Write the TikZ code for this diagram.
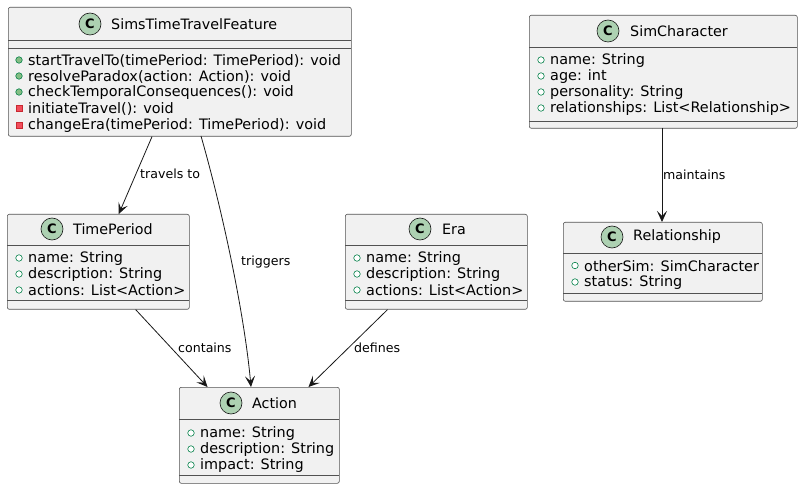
\documentclass[tikz,border=0pt]{standalone}
\usepackage{fontspec}
\setmainfont{DejaVu Sans}
\usetikzlibrary{arrows.meta}
\definecolor{boxfill}{HTML}{F1F1F1}
\definecolor{boxline}{HTML}{181818}
\definecolor{iconfill}{HTML}{ADD1B2}
\definecolor{publine}{HTML}{038048}
\definecolor{pubfill}{HTML}{84BE84}
\definecolor{privline}{HTML}{C82930}
\definecolor{privfill}{HTML}{F24D5C}
\tikzset{
    classbox/.style={draw=boxline!75, fill=boxfill, rounded corners=2pt, line width=0.6pt, anchor=north west, inner sep=0pt},
    classicon/.style={circle, draw=boxline, fill=iconfill, line width=0.6pt, minimum size=22pt, inner sep=0pt, font=\fontsize{13}{13}\selectfont\bfseries},
    classname/.style={anchor=west, inner sep=0pt, font=\fontsize{14.3}{16}\selectfont},
    member/.style={anchor=west, inner sep=0pt, font=\fontsize{14.4}{16}\selectfont},
    pubattr/.style={circle, draw=publine, fill=white, line width=0.6pt, minimum size=6.5pt, inner sep=0pt},
    pubop/.style={circle, draw=publine, fill=pubfill, line width=0.6pt, minimum size=6.5pt, inner sep=0pt},
    privop/.style={rectangle, draw=privline, fill=privfill, line width=0.6pt, minimum size=6pt, inner sep=0pt},
    sepline/.style={draw=boxline!75, line width=0.6pt},
    assoc/.style={draw=boxline, line width=0.8pt, -{Stealth[length=11pt, width=10pt, inset=5pt]}},
    lbl/.style={inner sep=0pt, anchor=west, font=\fontsize{12.6}{14}\selectfont}
}
\begin{document}
\begin{tikzpicture}[x=1pt, y=-1pt]
    \useasboundingbox (0,0) rectangle (801,489);

    % SimsTimeTravelFeature
    \node[classbox, minimum width=343pt, minimum height=129pt] (feat) at (8,7) {};
    \node[classicon] (feat-c) at (90,24) {C};
    \node[classname] (feat-n) at (111,24) {SimsTimeTravelFeature};
    \draw[sepline] (8,40) -- (351,40);
    \draw[sepline] (8,48) -- (351,48);
    \foreach \t [count=\i] in {{startTravelTo(timePeriod: TimePeriod): void},
            {resolveParadox(action: Action): void},
            {checkTemporalConsequences(): void}} {
        \node[pubop] at (19,44+16*\i) {};
        \node[member] at (28,44.5+16*\i) {\t};
    }
    \foreach \t [count=\i] in {{initiateTravel(): void},
            {changeEra(timePeriod: TimePeriod): void}} {
        \node[privop] at (19,92+16.5*\i) {};
        \node[member] at (28,92.5+16.5*\i) {\t};
    }

    % SimCharacter
    \node[classbox, minimum width=268pt, minimum height=113pt] (simc) at (529,15) {};
    \node[classicon] (simc-c) at (608,31) {C};
    \node[classname] (simc-n) at (630,31) {SimCharacter};
    \draw[sepline] (529,47) -- (797,47);
    \draw[sepline] (529,121) -- (797,121);
    \foreach \t [count=\i] in {{name: String}, {age: int}, {personality: String},
            {relationships: List<Relationship>}} {
        \node[pubattr] at (541,44+16*\i) {};
        \node[member] at (550,44.5+16*\i) {\t};
    }

    % TimePeriod
    \node[classbox, minimum width=182pt, minimum height=95pt] (tp) at (7,214) {};
    \node[classicon] (tp-c) at (52,229) {C};
    \node[classname] (tp-n) at (73,229) {TimePeriod};
    \draw[sepline] (7,245) -- (189,245);
    \draw[sepline] (7,300) -- (189,300);
    \foreach \t [count=\i] in {{name: String}, {description: String}, {actions: List<Action>}} {
        \node[pubattr] at (19,242+16*\i) {};
        \node[member] at (28,242.5+16*\i) {\t};
    }

    % Era
    \node[classbox, minimum width=182pt, minimum height=95pt] (era) at (345,214) {};
    \node[classicon] (era-c) at (420,229) {C};
    \node[classname] (era-n) at (442,229) {Era};
    \draw[sepline] (345,245) -- (527,245);
    \draw[sepline] (345,300) -- (527,300);
    \foreach \t [count=\i] in {{name: String}, {description: String}, {actions: List<Action>}} {
        \node[pubattr] at (357,242+16*\i) {};
        \node[member] at (366,242.5+16*\i) {\t};
    }

    % Relationship
    \node[classbox, minimum width=199pt, minimum height=79pt] (rel) at (563,222) {};
    \node[classicon] (rel-c) at (612,237) {C};
    \node[classname] (rel-n) at (633,237) {Relationship};
    \draw[sepline] (563,253) -- (762,253);
    \draw[sepline] (563,293) -- (762,293);
    \foreach \t [count=\i] in {{otherSim: SimCharacter}, {status: String}} {
        \node[pubattr] at (575,249+16.5*\i) {};
        \node[member] at (584,249.5+16.5*\i) {\t};
    }

    % Action
    \node[classbox, minimum width=160pt, minimum height=96pt] (act) at (179,387) {};
    \node[classicon] (act-c) at (231,403) {C};
    \node[classname] (act-n) at (252,403) {Action};
    \draw[sepline] (179,419) -- (339,419);
    \draw[sepline] (179,475) -- (339,475);
    \foreach \t [count=\i] in {{name: String}, {description: String}, {impact: String}} {
        \node[pubattr] at (191,417+16*\i) {};
        \node[member] at (200,417.5+16*\i) {\t};
    }

    % associations
    \coordinate (feat-a) at (201,136);
    \coordinate (act-a) at (251,387);
    \coordinate (simc-a) at (662,128);
    \coordinate (rel-a) at (662,222);
    \draw[assoc] (feat) -- (tp);
    \draw[assoc] (feat-a) .. controls (225,220) and (245,320) .. (act-a);
    \draw[assoc] (tp.-52) -- (act.137);
    \draw[assoc] (era) -- (act);
    \draw[assoc] (simc-a) -- (rel-a);
    \node[lbl] (l-travels) at (140,174) {travels to};
    \node[lbl] (l-triggers) at (241,262) {triggers};
    \node[lbl] (l-contains) at (178,348) {contains};
    \node[lbl] (l-defines) at (354,348) {defines};
    \node[lbl] (l-maintains) at (663,175) {maintains};
\end{tikzpicture}
\end{document}
